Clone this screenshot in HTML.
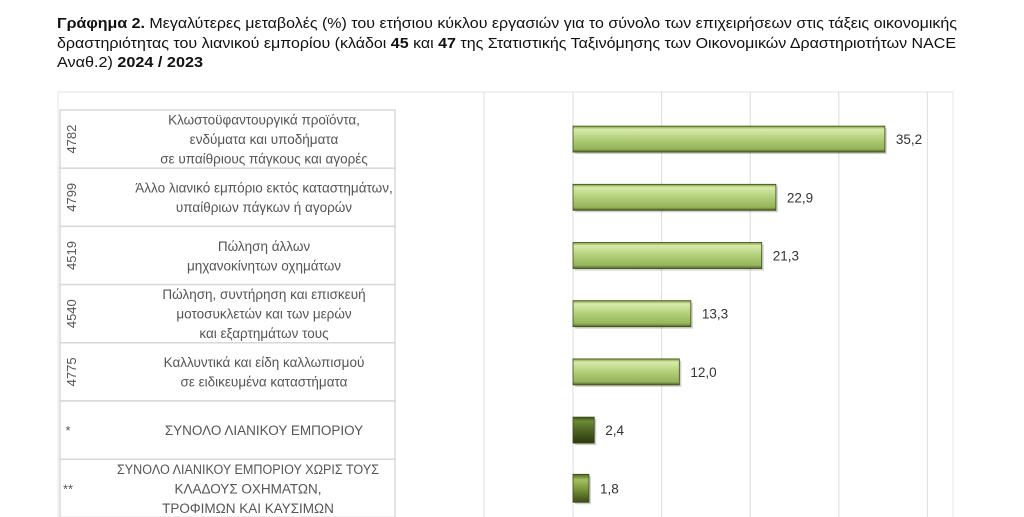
<!DOCTYPE html>
<html><head><meta charset="utf-8"><style>
html,body{margin:0;padding:0;background:#fff;width:1024px;height:517px;overflow:hidden}
svg{display:block;font-family:"Liberation Sans",sans-serif}
</style></head><body>
<svg id="c" width="1024" height="517" viewBox="0 0 1024 517">
<defs>
<linearGradient id="gl" x1="0" y1="0" x2="0" y2="1">
<stop offset="0" stop-color="#7d9a3c"/><stop offset="0.12" stop-color="#d6ebaa"/><stop offset="0.5" stop-color="#b2cf78"/><stop offset="0.88" stop-color="#96b45a"/><stop offset="1" stop-color="#4d6220"/></linearGradient>
<linearGradient id="gd" x1="0" y1="0" x2="0" y2="1">
<stop offset="0" stop-color="#3c4c18"/><stop offset="0.15" stop-color="#6d8a38"/><stop offset="0.5" stop-color="#4f6524"/><stop offset="1" stop-color="#2c3810"/></linearGradient>
<linearGradient id="gm" x1="0" y1="0" x2="0" y2="1">
<stop offset="0" stop-color="#4f6524"/><stop offset="0.2" stop-color="#a4c060"/><stop offset="0.5" stop-color="#7d9a3c"/><stop offset="1" stop-color="#3c4c18"/></linearGradient>
</defs>
<g font-size="14.5" fill="#111">
<text x="57" y="28" textLength="900" lengthAdjust="spacingAndGlyphs"><tspan font-weight="bold">Γράφημα 2.</tspan> Μεγαλύτερες μεταβολές (%) του ετήσιου κύκλου εργασιών για το σύνολο των επιχειρήσεων στις τάξεις οικονομικής</text>
<text x="57" y="48" textLength="899" lengthAdjust="spacingAndGlyphs">δραστηριότητας του λιανικού εμπορίου (κλάδοι <tspan font-weight="bold">45</tspan> και <tspan font-weight="bold">47</tspan> της Στατιστικής Ταξινόμησης των Οικονομικών Δραστηριοτήτων NACE</text>
<text x="57" y="67" textLength="146" lengthAdjust="spacingAndGlyphs">Αναθ.2) <tspan font-weight="bold">2024 / 2023</tspan></text>
</g>
<rect x="58" y="92" width="895" height="430" fill="none" stroke="#e4e4e4"/>
<g id="grid"></g>
<g id="table"></g>
<g id="bars"></g>
</svg>
<script>
const codes=["4782","4799","4519","4540","4775","*","**"];
const labels=[["Κλωστοϋφαντουργικά προϊόντα,","ενδύματα και υποδήματα","σε υπαίθριους πάγκους και αγορές"],["Άλλο λιανικό εμπόριο εκτός καταστημάτων,","υπαίθριων πάγκων ή αγορών"],["Πώληση άλλων","μηχανοκίνητων οχημάτων"],["Πώληση, συντήρηση και επισκευή","μοτοσυκλετών και των μερών","και εξαρτημάτων τους"],["Καλλυντικά και είδη καλλωπισμού","σε ειδικευμένα καταστήματα"],["ΣΥΝΟΛΟ ΛΙΑΝΙΚΟΥ ΕΜΠΟΡΙΟΥ"],["ΣΥΝΟΛΟ ΛΙΑΝΙΚΟΥ ΕΜΠΟΡΙΟΥ ΧΩΡΙΣ ΤΟΥΣ","ΚΛΑΔΟΥΣ ΟΧΗΜΑΤΩΝ,","ΤΡΟΦΙΜΩΝ ΚΑΙ ΚΑΥΣΙΜΩΝ"]];
const values=[35.2,22.9,21.3,13.3,12.0,2.4,1.8];
const valueLabels=["35,2","22,9","21,3","13,3","12,0","2,4","1,8"];
const gridTicks=[0,10,20,30,40];
const NS="http://www.w3.org/2000/svg";
const x0=573,pxPer=8.86,rowTop=110,rowH=58.2;
const xs=v=>x0+v*pxPer;
const yc=i=>rowTop+rowH*i+rowH/2;
function mk(t,a,p){const e=document.createElementNS(NS,t);for(const k in a)e.setAttribute(k,a[k]);p.appendChild(e);return e;}
const grid=document.getElementById('grid'),tab=document.getElementById('table'),bars=document.getElementById('bars');
let l=mk('line',{x1:484,x2:484,y1:92,y2:517,stroke:'#dcdcdc'},grid);


gridTicks.forEach(t=>{const g=mk('line',{x1:xs(t),x2:xs(t),y1:92,y2:517,stroke:'#dcdcdc'},grid);

});
codes.forEach((c,i)=>{
const top=rowTop+rowH*i;
const r=mk('rect',{x:60,y:top,width:335,height:rowH,fill:'#fff',stroke:'#d8d8d8','stroke-width':1.5},tab);


let ct;
if(i<5){ct=mk('text',{x:0,y:0,'font-size':13,fill:'#555','text-anchor':'middle',transform:`translate(76,${top+rowH/2}) rotate(-90)`},tab);}
else{ct=mk('text',{x:68,y:top+rowH/2+5,'font-size':13,fill:'#555','text-anchor':'middle'},tab);}
ct.textContent=c;


const lines=labels[i],lh=19.5,sy=top+rowH/2-(lines.length-1)*lh/2+5;
lines.forEach((s,j)=>{const t=mk('text',{x:i===6?248:264,y:sy+j*lh,'font-size':13.5,fill:'#555','text-anchor':'middle'},tab);
if(i===6&&j===0){t.setAttribute('textLength','262');t.setAttribute('lengthAdjust','spacingAndGlyphs');}
t.textContent=s;

});
const h=i===6?28:26, y=yc(i)-h/2, w=xs(values[i])-x0;
const fill=i===5?'url(#gd)':i===6?'url(#gm)':'url(#gl)';
const sh=mk('rect',{x:x0+2,y:y+2,width:w,height:h,fill:'#000',opacity:0.18},bars);


const b=mk('rect',{x:x0,y:y,width:w,height:h,fill:fill,stroke:'#3c4c18','stroke-width':0.8},bars);


const v=mk('text',{x:xs(values[i])+11,y:yc(i)+5,'font-size':13.5,fill:'#333'},bars);
v.textContent=valueLabels[i];


});
</script>
</body></html>
